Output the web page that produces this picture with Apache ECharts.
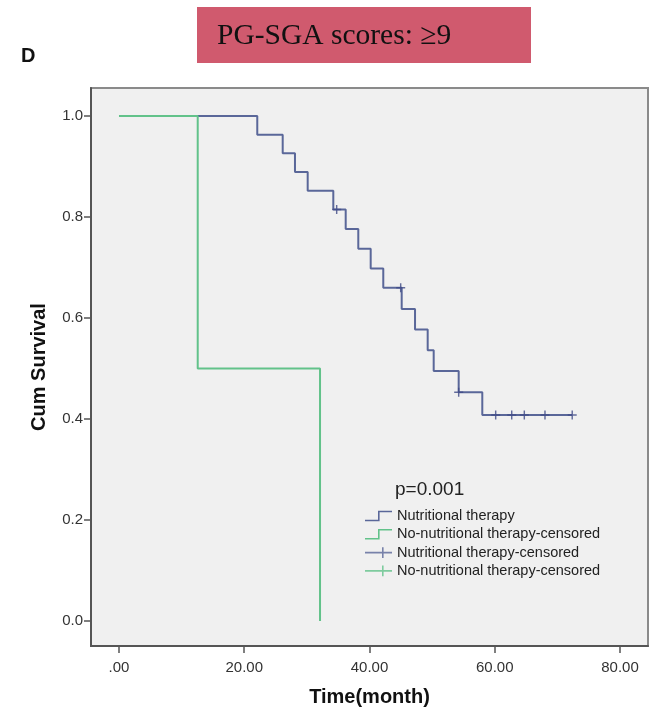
<!DOCTYPE html>
<html lang="en">
  <head>
    <meta charset="UTF-8" />
    <title>PG-SGA scores ≥9 survival</title>
    <style type="text/css">
      body {
        margin: 0;
        background-color: #fff;
      }

      #main {
        width: 651px;
        height: 710px;
      }
    </style>
  </head>
  <body>
    <div id="main"></div>
    <script src="https://cdn.jsdelivr.net/npm/echarts@6/dist/echarts.min.js"></script>
    <script type="text/javascript">
      // Kaplan-Meier steps: [time (month), cum survival]
      var therapyTimes = [0, 22.08, 26.14, 28.1, 30.13, 34.22, 36.2, 38.21, 40.19, 42.2, 45.14, 47.27, 49.29, 50.25, 54.24, 58.01, 72.37];
      var therapySurv = [1, 0.963, 0.926, 0.889, 0.852, 0.815, 0.776, 0.737, 0.698, 0.66, 0.618, 0.577, 0.536, 0.495, 0.453, 0.408, 0.408];

      var noTherapyTimes = [0, 12.57, 32.1];
      var noTherapySurv = [1, 0.5, 0];

      // censored cases
      var therapyCensTimes = [34.76, 44.98, 54.24, 60.15, 62.71, 64.72, 68.02, 72.37];
      var therapyCensSurv = [0.815, 0.66, 0.453, 0.408, 0.408, 0.408, 0.408, 0.408];
      var noTherapyCensTimes = [];
      var noTherapyCensSurv = [];

      var xTicks = [0, 20, 40, 60, 80];
      var yTicks = [0, 0.2, 0.4, 0.6, 0.8, 1.0];

      // the last name carries a trailing space so the legend keeps both entries
      var seriesNames = [
        "Nutritional therapy",
        "No-nutritional therapy-censored",
        "Nutritional therapy-censored",
        "No-nutritional therapy-censored ",
      ];

      function pairs(xs, ys) {
        return xs.map(function (x, i) {
          return [x, ys[i]];
        });
      }

      var stepIcon = "path://M0,9 L13,9 L13,0 L27,0 L27,1.6 L14.6,1.6 L14.6,10.6 L0,10.6 Z";
      var crossIcon = "path://M0,4.5 L17,4.5 L17,0 L18.6,0 L18.6,4.5 L27,4.5 L27,6.1 L18.6,6.1 L18.6,10.6 L17,10.6 L17,6.1 L0,6.1 Z";
      var plusMark = "path://M4.2,0 H5.8 V4.2 H10 V5.8 H5.8 V10 H4.2 V5.8 H0 V4.2 H4.2 Z";

      var blue = "#5a6799";
      var green = "#62c28a";

      var chartDom = document.getElementById("main");
      var myChart = echarts.init(chartDom, null, { renderer: "canvas" });
      var font = "Liberation Sans, Arial, sans-serif";

      var option = {
        animation: false,
        backgroundColor: "#fff",
        title: [
          {
            text: "D",
            left: 21,
            top: 46,
            padding: 0,
            textStyle: { fontFamily: font, fontSize: 20, fontWeight: "bold", color: "#111" },
          },
        ],
        graphic: [
          {
            type: "rect",
            shape: { x: 197, y: 7, width: 334, height: 56 },
            style: { fill: "#d05a6e" },
          },
          {
            type: "text",
            x: 217,
            y: 36,
            style: {
              text: "PG-SGA scores: ≥9",
              fontFamily: "Liberation Serif, DejaVu Serif, serif",
              fontSize: 29.5,
              fill: "#111",
              verticalAlign: "middle",
            },
          },
          {
            type: "text",
            x: 395,
            y: 490,
            z: 10,
            style: {
              text: "p=0.001",
              fontFamily: font,
              fontSize: 19,
              fill: "#222",
              verticalAlign: "middle",
            },
          },
        ],
        legend: {
          orient: "vertical",
          left: 365,
          top: 508,
          itemWidth: 27,
          itemHeight: 11,
          itemGap: 2.3,
          padding: 0,
          selectedMode: false,
          textStyle: { fontFamily: font, fontSize: 14.5, lineHeight: 16, color: "#222" },
          data: [
            { name: seriesNames[0], icon: stepIcon, itemStyle: { color: blue } },
            { name: seriesNames[1], icon: stepIcon, itemStyle: { color: green } },
            { name: seriesNames[2], icon: crossIcon, itemStyle: { color: blue } },
            { name: seriesNames[3], icon: crossIcon, itemStyle: { color: green } },
          ],
        },
        grid: {
          left: 91,
          top: 88,
          right: 3,
          bottom: 64,
          outerBoundsMode: "none",
          containLabel: false,
          show: true,
          backgroundColor: "#f0f0f0",
          borderColor: "#8a8a8a",
          borderWidth: 2,
        },
        xAxis: {
          type: "value",
          min: -4.47,
          max: 84.47,
          name: "Time(month)",
          nameLocation: "middle",
          nameGap: 41,
          nameTextStyle: { fontFamily: font, fontSize: 20, fontWeight: "bold", color: "#111" },
          axisLine: { show: true, onZero: false, lineStyle: { color: "#555", width: 2 } },
          axisTick: { show: true, inside: false, length: 7, customValues: xTicks, lineStyle: { color: "#555", width: 1.5 } },
          axisLabel: {
            customValues: xTicks,
            margin: 14,
            fontFamily: font,
            fontSize: 15,
            color: "#333",
            formatter: function (v) {
              return v === 0 ? ".00" : v.toFixed(2);
            },
          },
          splitLine: { show: false },
        },
        yAxis: {
          type: "value",
          min: -0.0495,
          max: 1.0554,
          name: "Cum Survival",
          nameLocation: "middle",
          nameGap: 42,
          nameTextStyle: { fontFamily: font, fontSize: 20, fontWeight: "bold", color: "#111" },
          axisLine: { show: true, onZero: false, lineStyle: { color: "#555", width: 2 } },
          axisTick: { show: true, inside: false, length: 7, customValues: yTicks, lineStyle: { color: "#555", width: 1.5 } },
          axisLabel: {
            customValues: yTicks,
            margin: 8,
            fontFamily: font,
            fontSize: 15,
            color: "#333",
            formatter: function (v) {
              return v.toFixed(1);
            },
          },
          splitLine: { show: false },
        },
        series: [
          {
            name: seriesNames[0],
            type: "line",
            step: "end",
            showSymbol: false,
            color: blue,
            lineStyle: { color: blue, width: 2 },
            data: pairs(therapyTimes, therapySurv),
            z: 2,
          },
          {
            name: seriesNames[1],
            type: "line",
            step: "end",
            showSymbol: false,
            color: green,
            lineStyle: { color: green, width: 2 },
            data: pairs(noTherapyTimes, noTherapySurv),
            z: 3,
          },
          {
            name: seriesNames[2],
            type: "scatter",
            symbol: plusMark,
            symbolSize: [9, 9],
            itemStyle: { color: "#3e4a86" },
            data: pairs(therapyCensTimes, therapyCensSurv),
            z: 4,
          },
          {
            name: seriesNames[3],
            type: "scatter",
            symbol: plusMark,
            symbolSize: [9, 9],
            itemStyle: { color: green },
            data: pairs(noTherapyCensTimes, noTherapyCensSurv),
            z: 4,
          },
        ],
      };

      myChart.setOption(option);
    </script>
  </body>
</html>
